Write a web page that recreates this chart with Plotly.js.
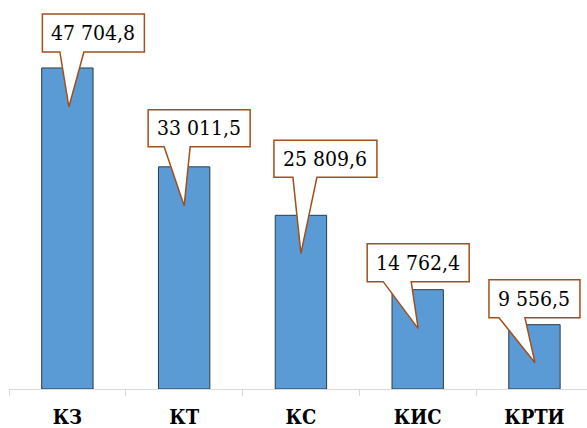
<!DOCTYPE html>
<html>
<head>
<meta charset="utf-8">
<script src="https://cdn.plot.ly/plotly-3.0.1.min.js"></script>
<style>html,body{margin:0;padding:0;overflow:hidden;background:#fff}</style>
</head>
<body>
<div id="chart" style="width:587px;height:428px"></div>
<script>
// Data
var categories = ["КЗ", "КТ", "КС", "КИС", "КРТИ"];
var values = [47704.8, 33011.5, 25809.6, 14762.4, 9556.5];
var valueLabels = ["47 704,8", "33 011,5", "25 809,6", "14 762,4", "9 556,5"];

// Callout geometry in pixels relative to each bar's top centre (style only)
// [left, right, top, bottom, wedgeLeft, wedgeRight, tipX, tipY]
var calloutBox = [
  [-25, 77, 54, 16, -7.5, 16.5, 1.5, -39],
  [-36, 66, 57, 20, -20, 6, 0, -39],
  [-27, 76, 75, 38, -8, 16, 0, -38],
  [-50.5, 51.5, 46, 8, -34.5, -6.5, 0.5, -39],
  [-45.5, 45.5, 45, 7, -35.5, -9.5, 0.5, -38]
];

var SERIF = "'DejaVu Serif Condensed', 'DejaVu Serif', serif";

var shapes = [];
var annotations = [];
categories.forEach(function (c, i) {
  var b = calloutBox[i];
  var L = b[0], R = b[1], T = b[2], B = b[3], wl = b[4], wr = b[5], tx = b[6], ty = b[7];
  var path = "M" + L + "," + T + " L" + R + "," + T + " L" + R + "," + B +
             " L" + wr + "," + B + " L" + tx + "," + ty + " L" + wl + "," + B +
             " L" + L + "," + B + " Z";
  shapes.push({
    type: "path",
    xref: "x", yref: "y",
    xsizemode: "pixel", ysizemode: "pixel",
    xanchor: i, yanchor: values[i],
    path: path,
    fillcolor: "#ffffff",
    line: {color: "#A0501E", width: 1.5},
    layer: "above"
  });
  annotations.push({
    x: c, y: values[i], xref: "x", yref: "y",
    text: valueLabels[i],
    showarrow: false,
    xshift: (L + R) / 2,
    yshift: (T + B) / 2,
    xanchor: "center", yanchor: "middle",
    font: {family: SERIF, size: 21, color: "#000000"}
  });
});

var trace = {
  type: "bar",
  x: categories,
  y: values,
  width: 0.44,
  marker: {color: "#5B9BD5", line: {color: "#2F3B48", width: 1}},
  hoverinfo: "none"
};

var layout = {
  width: 587, height: 428,
  margin: {l: 9, r: 0, t: 0, b: 39, pad: 0},
  paper_bgcolor: "#ffffff", plot_bgcolor: "#ffffff",
  showlegend: false,
  xaxis: {
    type: "category",
    range: [-0.5, 4.45],
    showline: true, linecolor: "#D9D9D9", linewidth: 1,
    ticks: "outside", ticklen: 6, tickcolor: "#D9D9D9", tickwidth: 1,
    tickson: "boundaries",
    ticklabelstandoff: 10,
    showgrid: false, zeroline: false,
    tickfont: {family: SERIF, size: 20, color: "#000000", weight: "bold"},
    fixedrange: true
  },
  yaxis: {
    visible: false,
    range: [0, 57800],
    showgrid: false, zeroline: false,
    fixedrange: true
  },
  shapes: shapes,
  annotations: annotations
};

Plotly.newPlot("chart", [trace], layout, {displayModeBar: false, staticPlot: true});
</script>
</body>
</html>
